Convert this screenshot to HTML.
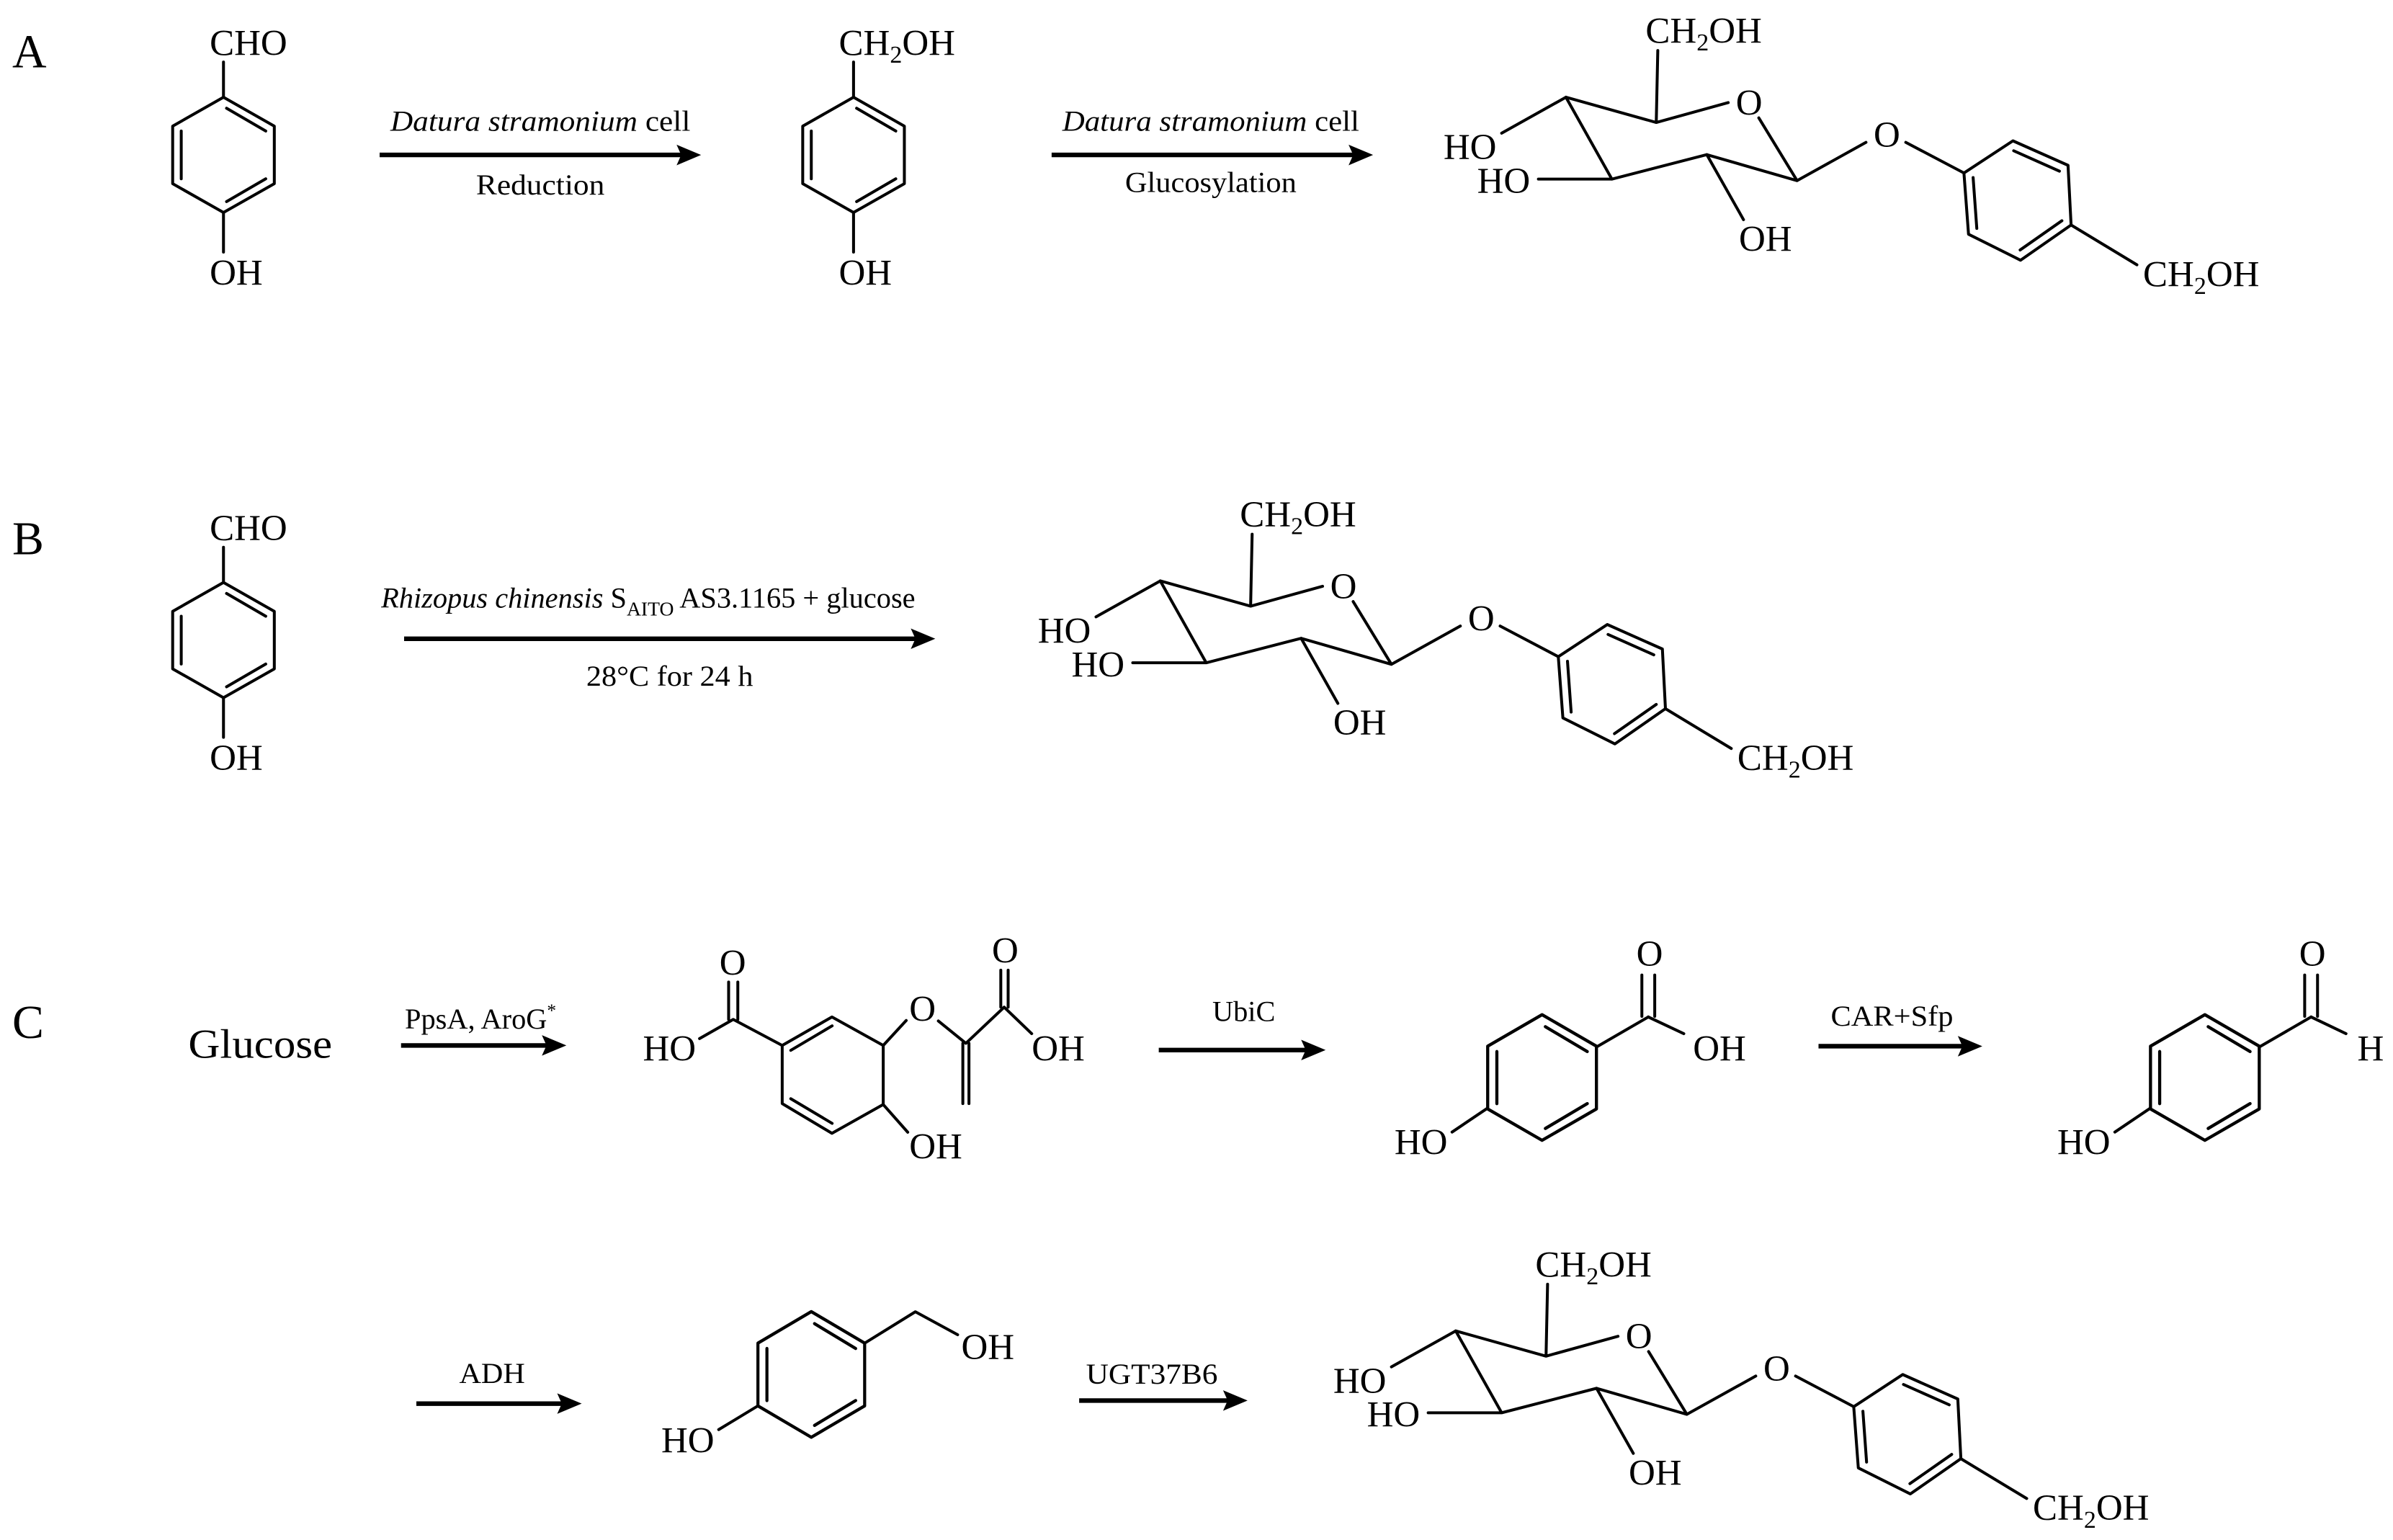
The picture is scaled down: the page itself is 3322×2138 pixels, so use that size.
<!DOCTYPE html>
<html><head><meta charset="utf-8"><style>
html,body{margin:0;padding:0;background:#fff}
svg{display:block}
text{font-family:"Liberation Serif","DejaVu Serif",serif;fill:#000}
.b{stroke:#000;stroke-width:1.9;fill:none;stroke-linecap:round;stroke-linejoin:round}
.a{stroke:#000;stroke-width:3;fill:none}
.t{font-size:24px}
.r{font-size:19px}
</style></head><body>
<svg width="3322" height="2138" viewBox="0 0 1563.3 1006.1" xmlns="http://www.w3.org/2000/svg">
<defs>
<g id="ring">
<polygon class="b" points="0,-37.7 33.2,-18.8 33.2,18.8 0,37.6 -33.2,18.8 -33.2,-18.8"/>
<line class="b" x1="2" y1="-30.5" x2="27.6" y2="-15.6"/>
<line class="b" x1="27.6" y1="15.6" x2="2" y2="30.5"/>
<line class="b" x1="-27.6" y1="15.6" x2="-27.6" y2="-15.6"/>
</g>
<g id="glu">
<path class="b" d="M1023,63.5 L1082,80 L1129,67 M1149,77 L1174,118 L1115,101 L1053,117 L1023,63.5 M1082,80 L1083,33 M1023,63.5 L981,87 M1053,117 L1005,117 M1115,101 L1139,143.5 M1174,118 L1219,93 M1245,93 L1283,113"/>
<polygon class="b" points="1283,113 1315,92 1351,108 1353,147 1320,170 1286,153"/>
<line class="b" x1="1315.5" y1="98.5" x2="1345.4" y2="111.8"/>
<line class="b" x1="1289" y1="116" x2="1291.4" y2="149.2"/>
<line class="b" x1="1347" y1="144.2" x2="1319.7" y2="163.3"/>
<line class="b" x1="1353" y1="147" x2="1396" y2="173"/>
<text class="t" x="1075" y="28">CH<tspan font-size="16" dy="5">2</tspan><tspan dy="-5">OH</tspan></text>
<text class="t" x="1134" y="75">O</text>
<text class="t" x="943" y="104">HO</text>
<text class="t" x="965" y="126">HO</text>
<text class="t" x="1136" y="164">OH</text>
<text class="t" x="1224" y="96">O</text>
<text class="t" x="1400" y="187">CH<tspan font-size="16" dy="5">2</tspan><tspan dy="-5">OH</tspan></text>
</g>
<g id="hba">
<use href="#ring" transform="translate(1007.4,704) scale(1.07,1.09)"/>
<line class="b" x1="1043" y1="684" x2="1076.8" y2="664.4"/>
<line class="b" x1="1072.6" y1="664" x2="1072.6" y2="637"/>
<line class="b" x1="1081" y1="664" x2="1081" y2="637"/>
<line class="b" x1="971.7" y1="724" x2="948.6" y2="739.6"/>
<text class="t" x="911" y="754">HO</text>
<text class="t" x="1069" y="631">O</text>
</g>
</defs>

<!-- A -->
<text x="8" y="44" font-size="31">A</text>
<use href="#ring" transform="translate(146,101.2)"/>
<line class="b" x1="146" y1="63.5" x2="146" y2="40.5"/>
<line class="b" x1="146" y1="138.8" x2="146" y2="164.7"/>
<text class="t" x="137" y="36">CHO</text>
<text class="t" x="137" y="186">OH</text>

<line class="a" x1="248" y1="101.2" x2="446" y2="101.2"/>
<polygon points="458,101.2 442,94.5 445,101.2 442,108" fill="#000"/>
<text class="r" x="255" y="85.5" textLength="196" lengthAdjust="spacingAndGlyphs"><tspan font-style="italic">Datura stramonium</tspan> cell</text>
<text class="r" x="311" y="127" textLength="84" lengthAdjust="spacingAndGlyphs">Reduction</text>

<use href="#ring" transform="translate(557.6,101.2)"/>
<line class="b" x1="557.6" y1="63.5" x2="557.6" y2="40.5"/>
<line class="b" x1="557.6" y1="138.8" x2="557.6" y2="164.7"/>
<text class="t" x="548" y="36">CH<tspan font-size="16" dy="5">2</tspan><tspan dy="-5">OH</tspan></text>
<text class="t" x="548" y="186">OH</text>

<line class="a" x1="687" y1="101.2" x2="885" y2="101.2"/>
<polygon points="897,101.2 881,94.5 884,101.2 881,108" fill="#000"/>
<text class="r" x="694" y="85.5" textLength="194" lengthAdjust="spacingAndGlyphs"><tspan font-style="italic">Datura stramonium</tspan> cell</text>
<text class="r" x="735" y="125.5" textLength="112" lengthAdjust="spacingAndGlyphs">Glucosylation</text>

<use href="#glu"/>

<!-- B -->
<text x="8" y="362" font-size="31">B</text>
<g transform="translate(0,317)">
<use href="#ring" transform="translate(146,101.2)"/>
<line class="b" x1="146" y1="63.5" x2="146" y2="40.5"/>
<line class="b" x1="146" y1="138.8" x2="146" y2="164.7"/>
<text class="t" x="137" y="36">CHO</text>
<text class="t" x="137" y="186">OH</text>
</g>
<line class="a" x1="264" y1="417.3" x2="599" y2="417.3"/>
<polygon points="611,417.3 595,410.6 598,417.3 595,424" fill="#000"/>
<text class="r" x="249" y="397"><tspan font-style="italic">Rhizopus chinensis</tspan> S<tspan font-size="13" dy="5">AITO</tspan><tspan dy="-5"> AS3.1165 + glucose</tspan></text>
<text class="r" x="383" y="448" textLength="109" lengthAdjust="spacingAndGlyphs">28°C for 24 h</text>
<use href="#glu" transform="translate(-265,316)"/>

<!-- C -->
<text x="8" y="678" font-size="31">C</text>
<text x="123" y="691" font-size="27" textLength="94" lengthAdjust="spacingAndGlyphs">Glucose</text>
<line class="a" x1="262" y1="683" x2="358" y2="683"/>
<polygon points="370,683 354,676.3 357,683 354,689.7" fill="#000"/>
<text class="r" x="264.5" y="672">PpsA, AroG<tspan font-size="12" dy="-8">*</tspan></text>

<!-- chorismate -->
<polygon class="b" points="511,683 543.5,664.4 577,683 577,721.6 543.5,740.4 511,721"/>
<line class="b" x1="516.6" y1="686.2" x2="543.6" y2="670.2"/>
<line class="b" x1="543.6" y1="733.9" x2="516.6" y2="717.8"/>
<path class="b" d="M511,683 L479,666 L457,678.5 M577,683 L592,666.7 M613,667 L631,681.6 L656,658 L674,675.3 M577,721.6 L593,739.7"/>
<line class="b" x1="476" y1="666" x2="476" y2="641.6"/>
<line class="b" x1="482" y1="666" x2="482" y2="641.6"/>
<line class="b" x1="629" y1="681.6" x2="629" y2="721"/>
<line class="b" x1="633" y1="681.6" x2="633" y2="721"/>
<line class="b" x1="653.8" y1="658" x2="653.8" y2="633.8"/>
<line class="b" x1="658.6" y1="658" x2="658.6" y2="633.8"/>
<text class="t" x="470" y="637">O</text>
<text class="t" x="420" y="693">HO</text>
<text class="t" x="594" y="667">O</text>
<text class="t" x="648" y="629">O</text>
<text class="t" x="674" y="693">OH</text>
<text class="t" x="594" y="757">OH</text>

<line class="a" x1="757" y1="686" x2="854" y2="686"/>
<polygon points="866,686 850,679.3 853,686 850,692.7" fill="#000"/>
<text class="r" x="792" y="667">UbiC</text>

<!-- 4-HBA -->
<use href="#hba"/>
<line class="b" x1="1076.8" y1="664.4" x2="1100" y2="675.3"/>
<text class="t" x="1106" y="693">OH</text>

<line class="a" x1="1188" y1="683.5" x2="1283" y2="683.5"/>
<polygon points="1295,683.5 1279,676.8 1282,683.5 1279,690.2" fill="#000"/>
<text class="r" x="1196" y="670" textLength="80" lengthAdjust="spacingAndGlyphs">CAR+Sfp</text>

<!-- 4-HB aldehyde -->
<use href="#hba" transform="translate(433,0)"/>
<line class="b" x1="1509.8" y1="664.4" x2="1532.6" y2="675.3"/>
<text class="t" x="1540" y="693">H</text>

<!-- bottom row -->
<line class="a" x1="272" y1="917" x2="368" y2="917"/>
<polygon points="380,917 364,910.3 367,917 364,923.7" fill="#000"/>
<text class="r" x="300" y="903.5" textLength="43" lengthAdjust="spacingAndGlyphs">ADH</text>

<use href="#ring" transform="translate(530,898) scale(1.05,1.09)"/>
<path class="b" d="M564.9,877.5 L598,857 L625.6,872 M495.1,918.5 L469.5,934"/>
<text class="t" x="628" y="888">OH</text>
<text class="t" x="432" y="949">HO</text>

<line class="a" x1="705" y1="915" x2="803" y2="915"/>
<polygon points="815,915 799,908.3 802,915 799,921.7" fill="#000"/>
<text class="r" x="709.5" y="904" textLength="86" lengthAdjust="spacingAndGlyphs">UGT37B6</text>

<use href="#glu" transform="translate(-72,806)"/>
</svg>
</body></html>
